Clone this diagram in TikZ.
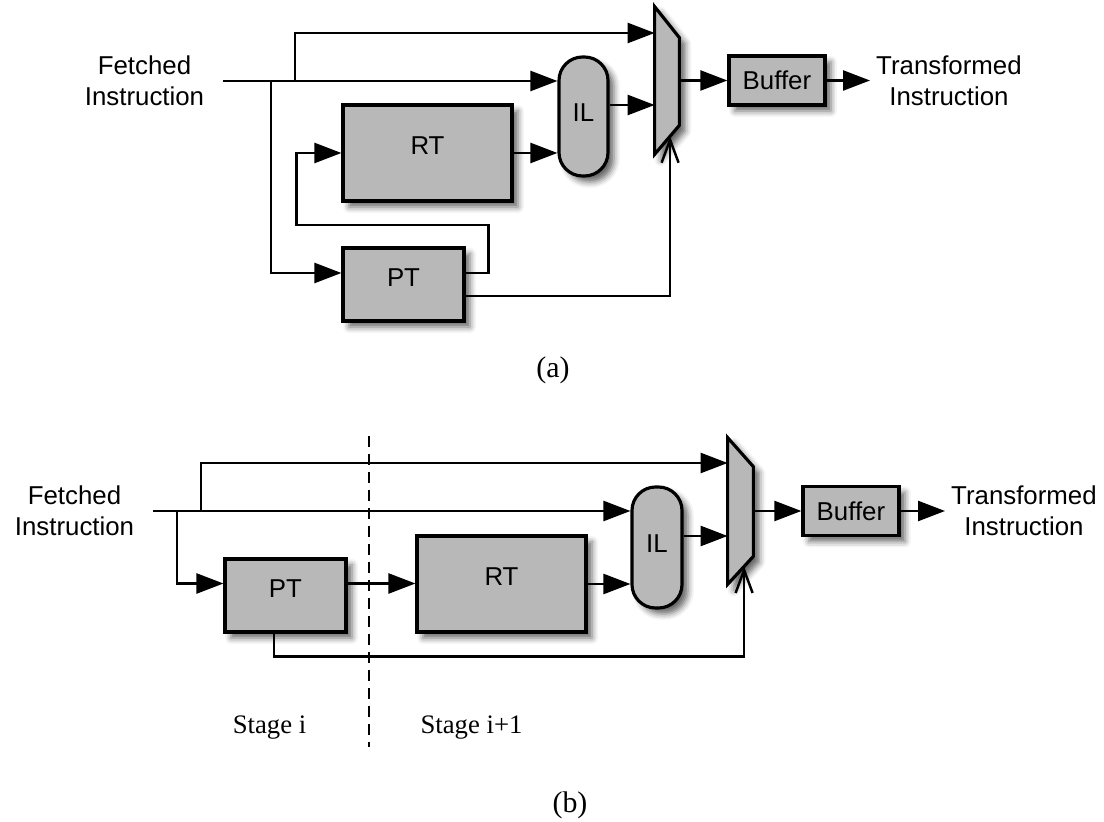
\documentclass[tikz,border=0pt]{standalone}
\usepackage{fontspec}
\setmainfont{Liberation Serif}
\setsansfont{Liberation Sans}
\usepackage{tikz}
\usetikzlibrary{positioning,calc,arrows.meta,shadows.blur}
\definecolor{boxgray}{RGB}{184,184,184}

\begin{document}
\begin{tikzpicture}[
    wire/.style={line width=1.4pt},
    arr/.style={wire, -{Triangle[length=0.54cm,width=0.40cm,fill=black]}},
    selarr/.style={wire, -{Straight Barb[length=0.46cm,width=0.34cm]}},
    softshadow/.style={blur shadow={shadow xshift=0.12cm, shadow yshift=-0.12cm, shadow blur radius=0.12cm, shadow opacity=60}},
    unitbox/.style={rectangle, draw, line width=1.8pt, fill=boxgray, softshadow, inner sep=0pt, font=\sffamily\fontsize{14.7}{17.6}\selectfont},
    bigbox/.style={unitbox, minimum width=3.38cm, minimum height=1.92cm, text depth=0.28cm},
    ptbox/.style={unitbox, minimum width=2.42cm, minimum height=1.46cm, text depth=0.28cm},
    ilbox/.style={unitbox, rounded corners=0.47cm, minimum width=0.98cm, minimum height=2.38cm, text depth=0.14cm},
    bufbox/.style={unitbox, minimum width=1.92cm, minimum height=0.98cm},
    muxnode/.style={rectangle, inner sep=0pt, minimum width=0.48cm, minimum height=2.94cm},
    muxshape/.style={draw, line width=1.8pt, fill=boxgray, softshadow},
    iolabel/.style={font=\sffamily\fontsize{14.7}{17.6}\selectfont, align=center},
    sublabel/.style={font=\fontsize{17}{20}\selectfont, anchor=base},
    stagelabel/.style={font=\fontsize{15.2}{18}\selectfont, anchor=base},
    stageline/.style={line width=1.4pt, dash pattern=on 0.22cm off 0.14cm}
]
    \useasboundingbox (0,0) rectangle (22.08,16.42);

    % (a) PT loops back into RT
    \node[iolabel] (fetchA) at (2.89,14.80) {Fetched\\Instruction};
    \coordinate (inA) at (4.46,14.80);
    \coordinate (jA1) at (5.42,14.80);
    \coordinate (jA2) at (5.90,14.80);
    \node[bigbox] (rtA) at (8.55,13.36) {RT};
    \node[ptbox] (ptA) at (8.07,10.73) {PT};
    \node[ilbox] (ilA) at (11.67,14.09) {IL};
    \node[muxnode] (muxA) at (13.34,14.81) {};
    \draw[muxshape] (muxA.north west) -- ([yshift=-0.62cm]muxA.north east)
        -- ([yshift=0.58cm]muxA.south east) coordinate (muxAbr)
        -- (muxA.south west) coordinate (muxAbl) -- cycle;
    \coordinate (selA) at ($(muxAbl)!0.625!(muxAbr)$);
    \node[bufbox, right=0.96cm of muxA] (bufA) {Buffer};
    \node[iolabel, right=0.87cm of bufA] (transA) {Transformed\\Instruction};

    \draw[arr] (inA) -- (inA -| ilA.west);
    \draw[arr] (jA2) |- ([yshift=0.95cm]muxA.west);
    \draw[arr] (jA1) |- ([yshift=0.23cm]ptA.west);
    \draw[arr] ([yshift=0.23cm]ptA.east) -- ++(0.46,0) |- ++(-3.84,0.96) |- (rtA.west);
    \draw[arr] (rtA.east) -- (rtA.east -| ilA.west);
    \draw[arr] ([yshift=0.23cm]ilA.east) -- ([yshift=0.23cm]ilA.east -| muxA.west);
    \draw[selarr] ([yshift=-0.23cm]ptA.east) -| (selA);
    \draw[arr] (muxA.east) -- (bufA.west);
    \draw[arr] (bufA.east) -- (transA.west);
    \node[sublabel] (capA) at (11.06,8.86) {(a)};

    % (b) PT and RT in two stages
    \node[iolabel] (fetchB) at (1.49,6.20) {Fetched\\Instruction};
    \coordinate (inB) at (3.06,6.20);
    \coordinate (jB1) at (3.54,6.20);
    \coordinate (jB2) at (4.02,6.20);
    \node[ptbox] (ptB) at (5.71,4.51) {PT};
    \node[bigbox] (rtB) at (10.03,4.74) {RT};
    \node[ilbox, minimum width=1.0cm, minimum height=2.42cm] (ilB) at (13.14,5.47) {IL};
    \node[muxnode, minimum width=0.5cm, minimum height=2.92cm] (muxB) at (14.81,6.20) {};
    \draw[muxshape] (muxB.north west) -- ([yshift=-0.58cm]muxB.north east)
        -- ([yshift=0.56cm]muxB.south east) coordinate (muxBbr)
        -- (muxB.south west) coordinate (muxBbl) -- cycle;
    \coordinate (selB) at ($(muxBbl)!0.64!(muxBbr)$);
    \node[bufbox, right=0.96cm of muxB] (bufB) {Buffer};
    \node[iolabel, right=0.89cm of bufB] (transB) {Transformed\\Instruction};

    \draw[arr] (inB) -- (inB -| ilB.west);
    \draw[arr] (jB2) |- ([yshift=0.96cm]muxB.west);
    \draw[arr] (jB1) |- ([yshift=0.24cm]ptB.west);
    \draw[arr] ([yshift=0.24cm]ptB.east) -- ([yshift=0.24cm]ptB.east -| rtB.west);
    \draw[arr] (rtB.east) -- (rtB.east -| ilB.west);
    \draw[arr] ([yshift=0.23cm]ilB.east) -- ([yshift=0.23cm]ilB.east -| muxB.west);
    \draw[selarr] ([xshift=-0.23cm]ptB.south) -- ++(0,-0.46) -| (selB);
    \draw[arr] (muxB.east) -- (bufB.west);
    \draw[arr] (bufB.east) -- (transB.west);

    % stage boundary
    \draw[stageline] (7.38,7.70) -- (7.38,1.48);
    \node[stagelabel] (stageI) at (5.39,1.74) {Stage i};
    \node[stagelabel] (stageJ) at (9.43,1.74) {Stage i+1};
    \node[sublabel] (capB) at (11.40,0.18) {(b)};
\end{tikzpicture}
\end{document}
